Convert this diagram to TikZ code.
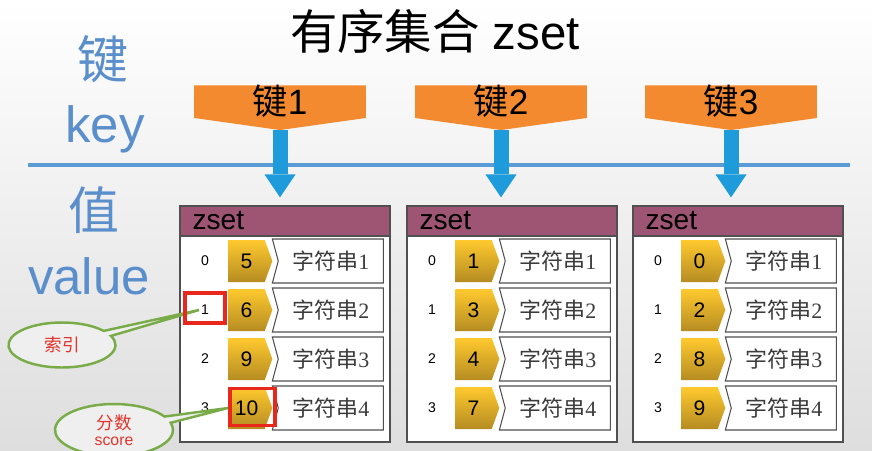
\documentclass[tikz,border=0pt]{standalone}
\usepackage{fontspec}
\setmainfont{Liberation Sans}
\newfontfamily\cjk{Noto Sans CJK SC}
\newfontfamily\serifnum{Liberation Serif}
\usetikzlibrary{positioning,arrows.meta,shapes.symbols,shapes.callouts,shapes.geometric,calc}
\definecolor{cheng}{HTML}{F38A30}
\definecolor{jin1}{HTML}{FFC92E}
\definecolor{jin2}{HTML}{B58C22}
\definecolor{zihong}{HTML}{9E5473}
\definecolor{bian}{HTML}{505050}
\definecolor{zi}{HTML}{3C3C3C}
\definecolor{hong}{HTML}{E8281C}
\definecolor{hongzi}{HTML}{E0342C}
\definecolor{lv}{HTML}{79AC48}
\definecolor{lan}{HTML}{5B8FCC}
\definecolor{xian}{HTML}{5B9BD5}
\definecolor{tianlan}{HTML}{1E9BDA}
\definecolor{beij}{HTML}{EFEFEF}
\newcommand{\fs}[1]{\fontsize{#1}{1.2\dimexpr#1pt\relax}\selectfont}

\begin{document}
\begin{tikzpicture}[x=0.02cm, y=-0.02cm, font=\fs{9},
      key/.style={signal, signal to=south, signal pointer angle=164, fill=cheng,
                  minimum width=3.44cm, minimum height=0.56cm, inner sep=0pt, font=\fs{20}},
      tbl/.style={draw=bian, line width=0.7pt, fill=white, minimum width=4.2cm,
                  minimum height=4.72cm, inner sep=0pt},
      hdr/.style={draw=bian, line width=0.7pt, fill=zihong, minimum width=4.2cm,
                  minimum height=0.6cm, inner sep=0pt, text width=3.7cm, align=left, font=\fs{16}},
      tag/.style={signal, signal to=east, signal pointer angle=140, top color=jin1,
                  bottom color=jin2, minimum width=0.88cm, minimum height=0.84cm,
                  inner sep=0pt, font=\fs{12}},
      str/.style={signal, signal from=west, signal to=nowhere, signal pointer angle=150,
                  draw=bian, fill=white, line width=0.6pt, minimum width=2.22cm,
                  minimum height=0.88cm, inner sep=0pt, text=zi, font=\fs{12.5}},
      idx/.style={font=\fs{8}, inner sep=1pt},
      hl/.style={draw=hong, line width=2pt, inner sep=0pt},
      co/.style={ellipse callout, draw=lv, line width=1.4pt, fill=beij, text=hongzi,
                 align=center, inner sep=0pt},
      lbl/.style={text=lan, font=\fs{29}},
      arr/.style={draw=tianlan, line width=0.3cm, shorten >=0.16cm,
                  -{Triangle[width=0.62cm,length=0.46cm,line width=0pt]}}]
    \useasboundingbox (0,0) rectangle (872,450);
    \fill[top color=white, bottom color=black!13] (0,0) rectangle (872,450);

    \node[font=\fs{27}] (title) at (435,31) {{\cjk 有序集合} zset};
    \node[lbl] (jian) at (103,59) {\cjk 键};
    \node[lbl] (key) at (105,129) {key};
    \node[lbl] (zhi) at (94,210) {\cjk 值};
    \node[lbl] (value) at (89,276) {value};
    \draw[xian, line width=2.3pt] (28,165) -- (850,165);

    \foreach \t/\lx/\sa/\sb/\sc/\sd in {1/180/5/6/9/10,2/407/1/3/4/7,3/633/0/2/8/9}{
      \node[tbl] (t\t) at (\lx+105,324) {};
      \node[hdr, below=0pt of t\t.north] (h\t) {zset};
      \foreach \v/\j [count=\i from 0] in {\sa/1,\sb/2,\sc/3,\sd/4}{
        \node[idx] (i\t\i) at (\lx+25,261+49*\i) {\i};
        \node[tag, anchor=west] (n\t\i) at (\lx+48,261+49*\i) {\v};
        \node[str, right=0.1cm of n\t\i] (s\t\i) {{\cjk 字符串}{\serifnum\j}};
      }
    }

    \foreach \k/\kx in {1/280,2/501,3/731}{
      \node[key, anchor=north] (k\k) at (\kx,85) {{\cjk 键}\k};
      \draw[arr] (k\k.south) -- (k\k.south |- t\k.north);
    }

    \node[co, minimum width=2.14cm, minimum height=0.9cm, font=\fs{10},
          callout absolute pointer={(i11.west)}] (c1) at (62,345) {\cjk 索引};
    \node[co, minimum width=2.36cm, minimum height=1.04cm,
          callout absolute pointer={(n13.west)}] (c2) at (114,430)
          {{\fs{10}\cjk 分数}\\[-2pt]{\fs{9}score}};
    \node[hl, minimum width=0.8cm, minimum height=0.6cm] (r1) at ($(i11)+(0,-2)$) {};
    \node[hl, minimum width=0.9cm, minimum height=0.74cm] (r2) at ($(n13)+(6,-1)$) {};
  \end{tikzpicture}
\end{document}
